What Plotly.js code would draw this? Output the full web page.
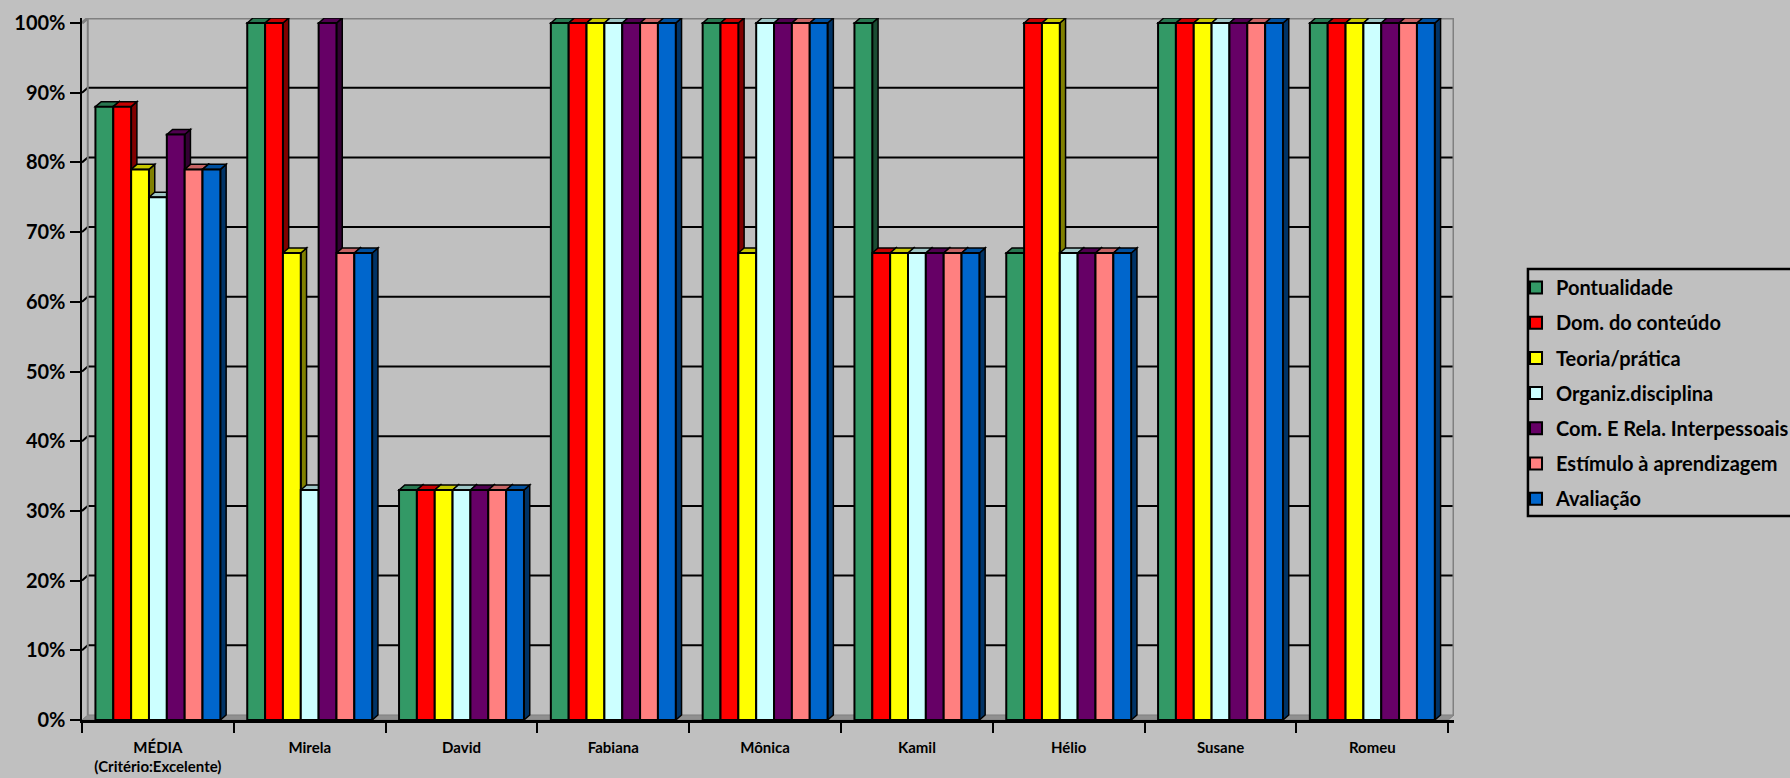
<!DOCTYPE html>
<html>
<head>
<meta charset="utf-8">
<script src="https://cdn.plot.ly/plotly-3.0.1.min.js"></script>
<style>html,body{margin:0;padding:0;background:#C0C0C0;}#chart{width:1790px;height:778px;}</style>
</head>
<body>
<div id="chart"></div>
<script>
// ---- data ----
const categories = ['MÉDIA<br>(Critério:Excelente)', 'Mirela', 'David', 'Fabiana', 'Mônica', 'Kamil', 'Hélio', 'Susane', 'Romeu'];
const seriesNames = ['Pontualidade', 'Dom. do conteúdo', 'Teoria/prática', 'Organiz.disciplina', 'Com. E Rela. Interpessoais', 'Estímulo à aprendizagem', 'Avaliação'];
const pontualidade      = [88, 100, 33, 100, 100, 100, 67, 100, 100];
const domConteudo       = [88, 100, 33, 100, 100, 67, 100, 100, 100];
const teoriaPratica     = [79, 67, 33, 100, 67, 67, 100, 100, 100];
const organizDisciplina = [75, 33, 33, 100, 100, 67, 67, 100, 100];
const comRela           = [84, 100, 33, 100, 100, 67, 67, 100, 100];
const estimulo          = [79, 67, 33, 100, 100, 67, 67, 100, 100];
const avaliacao         = [79, 67, 33, 100, 100, 67, 67, 100, 100];
const yTicks = [0, 10, 20, 30, 40, 50, 60, 70, 80, 90, 100];

// ---- styles ----
const seriesValues = [pontualidade, domConteudo, teoriaPratica, organizDisciplina, comRela, estimulo, avaliacao];
const colors = ['#339966', '#FF0000', '#FFFF00', '#CCFFFF', '#660066', '#FF8080', '#0066CC'];
const FONT = 'Lato, "Open Sans", sans-serif';
const bargap = 0.177;
const dxc = 0.038;   // 3D depth in category units
const dyv = 0.72;    // 3D depth in value units

function shade(hex, f) {
  const n = parseInt(hex.slice(1), 16);
  const r = Math.round(((n >> 16) & 255) * f), g = Math.round(((n >> 8) & 255) * f), b = Math.round((n & 255) * f);
  return 'rgb(' + r + ',' + g + ',' + b + ')';
}

const traces = seriesNames.map((name, k) => ({
  type: 'bar',
  name: name,
  x: categories,
  y: seriesValues[k],
  legendgroup: 'g' + k,
  marker: { color: colors[k], line: { color: '#000', width: 2 } },
  hoverinfo: 'name+y'
}));

// 3D decorations derived from data
const shapes = [];
const nS = seriesNames.length;
const w = (1 - bargap) / nS;
const xMin = -0.5, xMax = categories.length - 0.5;
// floor
shapes.push({ type: 'path', xref: 'x', yref: 'y', layer: 'between',
  path: `M${xMin},0 L${xMin + dxc},${dyv} L${xMax + dxc},${dyv} L${xMax},0 Z`,
  fillcolor: '#909090', line: { color: '#808080', width: 1 } });
// gridlines on back wall
yTicks.forEach(v => {
  if (v === 0) return;
  const col = v === 100 ? '#808080' : '#000';
  shapes.push({ type: 'path', xref: 'x', yref: 'y', layer: 'between',
    path: `M${xMin},${v} L${xMin + dxc},${v + dyv} L${xMax + dxc},${v + dyv}`,
    line: { color: col, width: v === 100 ? 3 : 2 } });
});
// back wall left and right edges
shapes.push({ type: 'line', xref: 'x', yref: 'y', layer: 'between', x0: xMin + dxc, x1: xMin + dxc, y0: dyv, y1: 100 + dyv, line: { color: '#808080', width: 2 } });
shapes.push({ type: 'line', xref: 'x', yref: 'y', layer: 'between', x0: xMax + dxc, x1: xMax + dxc, y0: dyv, y1: 100 + dyv, line: { color: '#808080', width: 3 } });

// side faces
seriesValues.forEach((vals, k) => {
  vals.forEach((v, i) => {
    const right = i - (1 - bargap) / 2 + (k + 1) * w;
    shapes.push({ type: 'path', xref: 'x', yref: 'y', layer: 'between',
      path: `M${right},0 L${right + dxc},${dyv} L${right + dxc},${v + dyv} L${right},${v} Z`,
      fillcolor: shade(colors[k], 0.5), line: { color: '#000', width: 1.5 } });
  });
});
// top faces
seriesValues.forEach((vals, k) => {
  vals.forEach((v, i) => {
    const left = i - (1 - bargap) / 2 + k * w;
    const right = left + w;
    shapes.push({ type: 'path', xref: 'x', yref: 'y', layer: 'between',
      path: `M${left},${v} L${left + dxc},${v + dyv} L${right + dxc},${v + dyv} L${right},${v} Z`,
      fillcolor: shade(colors[k], 0.78), line: { color: '#000', width: 1.5 } });
  });
});
// legend frame
shapes.push({ type: 'rect', xref: 'paper', yref: 'paper', layer: 'above',
  x0: 1.0539, x1: 1.30, y0: 0.2906, y1: 0.6425, line: { color: '#000', width: 2.5 } });

const layout = {
  width: 1790, height: 778,
  paper_bgcolor: '#C0C0C0', plot_bgcolor: '#C0C0C0',
  margin: { l: 82, r: 336, t: 18, b: 58, pad: 0, autoexpand: false },
  font: { family: FONT, color: '#000', weight: 700 },
  barmode: 'group', bargap: bargap, bargroupgap: 0,
  showlegend: true,
  legend: {
    x: 1.0452, xanchor: 'left', y: 0.6439, yanchor: 'top',
    bgcolor: 'rgba(0,0,0,0)', borderwidth: 0,
    font: { family: FONT, size: 20, color: '#000', weight: 700 },
    tracegroupgap: 6.2, traceorder: 'grouped', itemwidth: 30
  },
  xaxis: {
    type: 'category', range: [xMin, xMax + dxc], fixedrange: true,
    showline: true, linecolor: '#000', linewidth: 2.5,
    ticks: 'outside', tickson: 'boundaries', ticklen: 10, tickwidth: 2, tickcolor: '#000',
    ticklabelstandoff: 12,
    showgrid: false, zeroline: false,
    tickfont: { family: FONT, size: 15, color: '#000', weight: 700 }
  },
  yaxis: {
    range: [0, 100 + dyv], fixedrange: true,
    tickvals: yTicks, ticktext: yTicks.map(v => v + '%'),
    showline: true, linecolor: '#000', linewidth: 2.5,
    ticks: 'outside', ticklen: 10, tickwidth: 2, tickcolor: '#000',
    showgrid: false, zeroline: false,
    tickfont: { family: FONT, size: 20, color: '#000', weight: 700 }
  },
  shapes: shapes
};

Plotly.newPlot('chart', traces, layout, { displayModeBar: false, staticPlot: true });
</script>
</body>
</html>
